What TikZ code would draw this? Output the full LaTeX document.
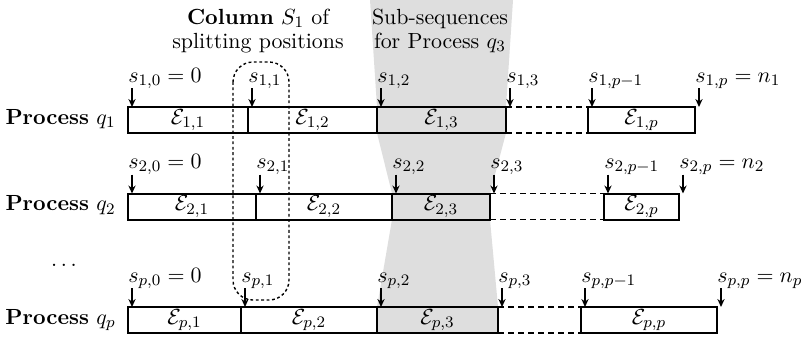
\documentclass[tikz,border=0pt]{standalone}
\usetikzlibrary{arrows.meta,backgrounds}
\definecolor{shadegray}{gray}{0.87}
\newcommand\segnode[5]{\node[segbox, minimum width={(#3-#2)*0.5pt}] (#1) at ({(#2+#3)/2},#4) {#5};}
\newcommand\splitlbl[3]{%
  \node[lbl] (#1) at ([yshift=12.5pt]#2) {#3};
  \draw[arr] ([xshift=2pt,yshift=-3pt]#1.base west) -- ([xshift=2pt]#2);}
\begin{document}
\begin{tikzpicture}[x=0.5pt,y=-0.5pt,
  every node/.style={font=\fontsize{10.95}{13}\selectfont},
  segbox/.style={draw, line width=1pt, minimum height=13pt, inner sep=0pt, outer sep=0pt},
  lbl/.style={anchor=base west, inner sep=0pt},
  hd/.style={anchor=base, inner sep=0pt},
  proc/.style={anchor=base east, inner sep=0pt},
  arr/.style={-{Stealth[length=4pt,width=3.6pt]}, line width=0.7pt},
  gapline/.style={densely dashed, line width=0.9pt},
  column/.style={line width=0.7pt, dash pattern=on 1.4pt off 1.3pt, rounded corners=10pt}]
\useasboundingbox (0,0) rectangle (801,339);

% headings
\node[hd] (h1a) at (258,24) {\textbf{Column} $S_1$ of};
\node[hd] (h1b) at (258,48) {splitting positions};
\node[hd] (h2a) at (440,24) {Sub-sequences};
\node[hd] (h2b) at (440,48) {for Process $q_3$};

% row 1
\segnode{e11}{128}{248}{120}{$\mathcal{E}_{1,1}$}
\segnode{e12}{248}{377}{120}{$\mathcal{E}_{1,2}$}
\segnode{e13}{377}{506}{120}{$\mathcal{E}_{1,3}$}
\segnode{e1p}{588}{695}{120}{$\mathcal{E}_{1,p}$}
% row 2
\segnode{e21}{128}{256}{206.5}{$\mathcal{E}_{2,1}$}
\segnode{e22}{256}{392}{206.5}{$\mathcal{E}_{2,2}$}
\segnode{e23}{392}{490}{206.5}{$\mathcal{E}_{2,3}$}
\segnode{e2p}{604}{679}{206.5}{$\mathcal{E}_{2,p}$}
% row p
\segnode{ep1}{128}{241}{320}{$\mathcal{E}_{p,1}$}
\segnode{ep2}{241}{377}{320}{$\mathcal{E}_{p,2}$}
\segnode{ep3}{377}{498}{320}{$\mathcal{E}_{p,3}$}
\segnode{epp}{581}{717}{320}{$\mathcal{E}_{p,p}$}

% process labels
\node[proc] (q1) at ([xshift=-6pt]e11.base west) {\textbf{Process} $q_1$};
\node[proc] (q2) at ([xshift=-6pt]e21.base west) {\textbf{Process} $q_2$};
\node[proc] (qp) at ([xshift=-6pt]ep1.base west) {\textbf{Process} $q_p$};
\node[anchor=base] (dots) at (64,266) {$\dots$};

% gaps
\draw[gapline] (e13.north east) -- (e1p.north west);
\draw[gapline] (e13.south east) -- (e1p.south west);
\draw[gapline] (e23.north east) -- (e2p.north west);
\draw[gapline] (e23.south east) -- (e2p.south west);
\draw[gapline] (ep3.north east) -- (epp.north west);
\draw[gapline] (ep3.south east) -- (epp.south west);

% splitting positions
\splitlbl{s10}{e11.north west}{$s_{1,0}=0$}
\splitlbl{s11}{e12.north west}{$s_{1,1}$}
\splitlbl{s12}{e13.north west}{$s_{1,2}$}
\splitlbl{s13}{e13.north east}{$s_{1,3}$}
\splitlbl{s1q}{e1p.north west}{$s_{1,p-1}$}
\splitlbl{s1p}{e1p.north east}{$s_{1,p}=n_1$}

\splitlbl{s20}{e21.north west}{$s_{2,0}=0$}
\splitlbl{s21}{e22.north west}{$s_{2,1}$}
\splitlbl{s22}{e23.north west}{$s_{2,2}$}
\splitlbl{s23}{e23.north east}{$s_{2,3}$}
\splitlbl{s2q}{e2p.north west}{$s_{2,p-1}$}
\splitlbl{s2p}{e2p.north east}{$s_{2,p}=n_2$}

\splitlbl{sp0}{ep1.north west}{$s_{p,0}=0$}
\splitlbl{sp1}{ep2.north west}{$s_{p,1}$}
\splitlbl{sp2}{ep3.north west}{$s_{p,2}$}
\splitlbl{sp3}{ep3.north east}{$s_{p,3}$}
\splitlbl{spq}{epp.north west}{$s_{p,p-1}$}
\splitlbl{spp}{epp.north east}{$s_{p,p}=n_p$}

% column S1
\draw[column] (233,62) rectangle (289,300);

% sub-sequences for process q3
\coordinate (gtl) at (370,0);
\coordinate (gtr) at (513,0);
\begin{scope}[on background layer]
\fill[shadegray] (gtl) -- (e13.north west) -- (e13.south west) -- (e23.north west)
  -- (e23.south west) -- (ep3.north west) -- (ep3.south west) -- (ep3.south east)
  -- (ep3.north east) -- (e23.south east) -- (e23.north east) -- (e13.south east)
  -- (e13.north east) -- (gtr) -- cycle;
\end{scope}
\end{tikzpicture}
\end{document}
